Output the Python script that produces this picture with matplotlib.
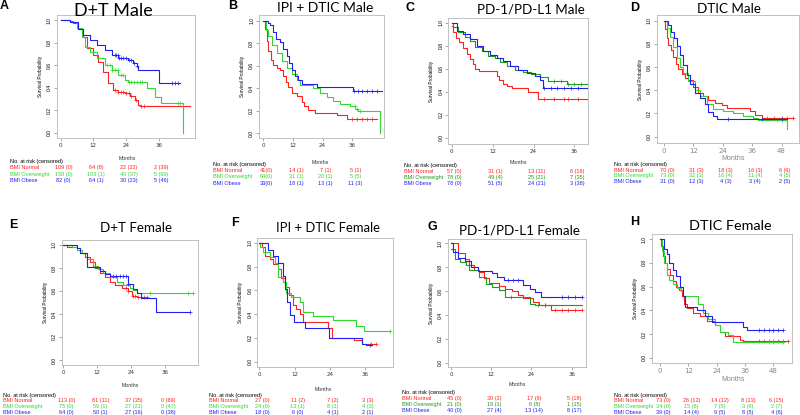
import numpy as np
import matplotlib
matplotlib.use("Agg")
import matplotlib.pyplot as plt

W, H = 800, 415
RED = "#ff2020"
GREEN = "#30d830"
DKGREEN = "#1e9a1e"
BLUE = "#2020f0"

# --- curves: (month, survival) step points, last point = end of follow-up ---
A_NORMAL = [(0, 1.0), (3.4, 0.99), (4.6, 0.97), (6.5, 0.92), (8.3, 0.85), (9.5, 0.75), (12, 0.69),
            (13.8, 0.63), (15.7, 0.54), (17.5, 0.44), (19.3, 0.38), (21, 0.36), (23.6, 0.35),
            (25.5, 0.33), (27.3, 0.29), (28.5, 0.25), (29.2, 0.24), (47.5, 0.24)]
A_OVER = [(0, 1.0), (3.5, 0.98), (5.9, 0.93), (7.7, 0.85), (8.9, 0.76), (10.8, 0.72), (13.2, 0.66),
          (16.3, 0.60), (18.7, 0.56), (21.2, 0.51), (23.6, 0.47), (24.8, 0.45), (31.6, 0.40),
          (34.7, 0.32), (36.7, 0.26), (45.1, 0.0)]
A_OBESE = [(0, 1.0), (3.5, 0.98), (6.5, 0.92), (8.3, 0.87), (10.8, 0.82), (13.2, 0.78), (16.3, 0.73),
           (18.7, 0.69), (21.2, 0.66), (24.8, 0.645), (26.7, 0.62), (27.9, 0.59), (28.5, 0.555),
           (36.1, 0.44), (43.9, 0.44)]
A_CENS = ([20, 21, 22, 23, 24, 25, 26, 27.6, 29.6, 30.5],
          [17, 18, 19, 20, 21, 22, 23, 25, 26, 27, 28, 29, 30, 43, 44],
          [20, 20.5, 21, 21.5, 22, 23, 24, 25, 26, 27, 28, 41, 42, 43])

B_NORMAL = [(0, 1.0), (0.7, 0.93), (1.3, 0.82), (2.0, 0.73), (3.0, 0.65), (4.0, 0.61), (5.4, 0.58),
            (6.7, 0.56), (8.1, 0.51), (9.2, 0.46), (10.1, 0.41), (11.5, 0.36), (13.5, 0.33),
            (15.5, 0.28), (16.5, 0.24), (18.2, 0.21), (20.9, 0.18), (29.7, 0.16), (33.7, 0.13),
            (45.9, 0.13)]
B_OVER = [(0, 1.0), (1.1, 0.92), (2.0, 0.86), (3.4, 0.78), (5.4, 0.71), (7.4, 0.64), (9.4, 0.58),
          (11.5, 0.53), (13.5, 0.47), (14.8, 0.43), (20.2, 0.40), (22.9, 0.36), (25.6, 0.32),
          (28.3, 0.29), (31.0, 0.26), (35.1, 0.24), (37.1, 0.22), (38.5, 0.20), (47.2, 0.0)]
B_OBESE = [(0, 1.0), (2.0, 0.98), (2.7, 0.96), (4.0, 0.90), (5.1, 0.84), (6.7, 0.81), (8.1, 0.75),
           (9.4, 0.69), (10.5, 0.62), (11.5, 0.56), (12.8, 0.51), (14.2, 0.47), (15.5, 0.44),
           (21.6, 0.41), (36.4, 0.38), (47.9, 0.38)]
B_CENS = ([36, 38, 40, 42, 44], [37, 38, 39], [36.8, 38.5, 40, 42, 44, 46])

C_NORMAL = [(0, 0.97), (0.5, 0.92), (1.3, 0.87), (2.2, 0.83), (3.4, 0.78), (4.4, 0.73), (5.4, 0.68),
            (6.1, 0.64), (6.8, 0.60), (8.1, 0.58), (13.2, 0.54), (14.0, 0.50), (15.1, 0.47),
            (16.1, 0.45), (17.6, 0.43), (22.5, 0.40), (25.4, 0.34), (40, 0.34)]
C_OVER = [(0, 1.0), (0.5, 0.96), (1.9, 0.92), (3.9, 0.88), (5.4, 0.84), (6.8, 0.79), (8.8, 0.75),
          (10.7, 0.71), (12.7, 0.69), (14.2, 0.66), (16.1, 0.62), (18.6, 0.59), (21.0, 0.57),
          (23.4, 0.55), (25.9, 0.53), (28.3, 0.49), (33.7, 0.47), (40, 0.47)]
C_OBESE = [(0, 1.0), (1.5, 0.93), (3.4, 0.90), (5.4, 0.86), (7.3, 0.80), (9.3, 0.75), (11.2, 0.72),
           (13.2, 0.69), (15.1, 0.67), (17.1, 0.62), (19.5, 0.59), (22.0, 0.56), (24.4, 0.54),
           (25.9, 0.50), (26.9, 0.43), (40, 0.43)]
C_CENS = ([27, 30, 33, 34, 37], [30, 32, 34, 36, 38], [27, 29, 31, 33, 35, 37])

D_NORMAL = [(0, 1.0), (0.4, 0.93), (1.1, 0.85), (1.8, 0.79), (2.7, 0.75), (3.8, 0.69), (4.9, 0.63),
            (5.9, 0.58), (7.2, 0.54), (8.6, 0.51), (9.9, 0.49), (12.0, 0.43), (14.0, 0.38),
            (16.0, 0.35), (18.1, 0.32), (20.8, 0.29), (23.5, 0.27), (25.6, 0.25), (35.1, 0.22),
            (37.1, 0.19), (39.9, 0.16), (52.8, 0.16)]
D_OVER = [(0, 1.0), (1.1, 0.94), (2.4, 0.86), (3.8, 0.77), (5.2, 0.68), (6.5, 0.60), (7.9, 0.55),
          (9.9, 0.48), (12.7, 0.40), (14.7, 0.35), (17.4, 0.28), (20.1, 0.24), (24.2, 0.22),
          (28.3, 0.20), (32.4, 0.18), (36.5, 0.16), (38.5, 0.14), (50.1, 0.07), (50.3, 0.07)]
D_OBESE = [(0, 1.0), (1.8, 0.96), (2.9, 0.90), (4.1, 0.85), (5.2, 0.78), (6.5, 0.70), (7.9, 0.62),
           (9.3, 0.53), (10.6, 0.45), (12.7, 0.38), (14.7, 0.33), (16.7, 0.28), (18.1, 0.21),
           (20.1, 0.18), (21.5, 0.15), (50.1, 0.15)]
D_CENS = ([42, 45, 48, 50, 52.8], [46, 48], [26, 40, 48])

E_NORMAL = [(0, 1.0), (1.2, 0.98), (4.7, 0.96), (5.9, 0.93), (7.6, 0.90), (9.4, 0.85), (11.2, 0.80),
            (12.9, 0.76), (14.7, 0.72), (16.5, 0.68), (18.2, 0.65), (20.6, 0.63), (22.9, 0.60),
            (24.1, 0.56), (25.9, 0.55), (29.4, 0.55)]
E_OVER = [(0, 1.0), (3.0, 0.98), (4.7, 0.96), (6.5, 0.93), (8.2, 0.88), (10.6, 0.82), (12.4, 0.79),
          (14.1, 0.76), (16.5, 0.72), (18.8, 0.68), (21.2, 0.65), (23.5, 0.63), (24.7, 0.61),
          (25.9, 0.585), (45.9, 0.585)]
E_OBESE = [(0, 1.0), (4.7, 0.97), (5.9, 0.93), (8.5, 0.81), (12.9, 0.77), (14.7, 0.745),
           (16.5, 0.73), (22.9, 0.66), (24.7, 0.62), (25.9, 0.58), (27.6, 0.54), (32.9, 0.42),
           (44.7, 0.42)]
E_CENS = ([22, 23, 24.5, 25.5, 26.5, 27.5, 28.5, 29.4], [30.5, 44, 45.9],
          [17.5, 18.5, 20, 21, 22, 23, 44.7])

F_NORMAL = [(0, 1.0), (0.8, 0.96), (1.9, 0.89), (3.6, 0.86), (4.7, 0.82), (6.4, 0.78), (7.5, 0.70),
            (8.7, 0.63), (10.1, 0.56), (11.5, 0.48), (12.6, 0.44), (13.7, 0.40), (14.8, 0.33),
            (23.3, 0.28), (24.7, 0.20), (32.2, 0.18), (35.1, 0.15), (39.6, 0.15)]
F_OVER = [(0, 1.0), (0.3, 0.96), (1.4, 0.92), (3.6, 0.88), (5.3, 0.83), (6.4, 0.71), (8.1, 0.67),
          (9.2, 0.58), (10.9, 0.54), (13.7, 0.50), (14.8, 0.42), (18.2, 0.38), (24.9, 0.35),
          (32.8, 0.30), (35.6, 0.26), (44.6, 0.26)]
F_OBESE = [(0, 1.0), (3.0, 0.94), (4.7, 0.89), (6.4, 0.83), (7.9, 0.72), (8.7, 0.61), (9.4, 0.50),
           (10.3, 0.39), (11.7, 0.33), (15.4, 0.28), (23.8, 0.20), (35.1, 0.15), (36.2, 0.14),
           (38.4, 0.14)]
F_CENS = ([38, 39.6], [44.6], [37.5])

G_NORMAL = [(0, 1.0), (2.1, 0.92), (4.1, 0.87), (5.5, 0.82), (7.0, 0.78), (8.4, 0.76), (9.9, 0.71),
            (11.4, 0.67), (14.3, 0.64), (16.2, 0.62), (18.2, 0.60), (20.1, 0.57), (21.6, 0.54),
            (24.5, 0.51), (26.4, 0.48), (29.8, 0.44), (39, 0.44)]
G_OVER = [(0, 0.95), (1.2, 0.87), (2.6, 0.84), (4.6, 0.82), (5.5, 0.78), (8.4, 0.72), (10.4, 0.66),
          (12.3, 0.63), (14.3, 0.61), (16.2, 0.55), (23.5, 0.49), (25.0, 0.48), (39, 0.48)]
G_OBESE = [(0, 1.0), (0.7, 0.93), (2.1, 0.88), (4.1, 0.85), (6.0, 0.80), (8.0, 0.77), (12.3, 0.75),
           (13.8, 0.72), (15.7, 0.69), (21.6, 0.65), (23.5, 0.62), (25.0, 0.59), (26.9, 0.55),
           (39, 0.55)]
G_CENS = ([28, 31, 33, 35, 37, 39], [18, 26, 28], [17, 18.5, 20, 33, 35, 37, 39])

H_NORMAL = [(0, 1.0), (0.3, 0.94), (1.1, 0.86), (2.1, 0.80), (3.1, 0.75), (4.2, 0.70), (5.4, 0.65),
            (6.8, 0.60), (8.2, 0.57), (9.2, 0.52), (10.2, 0.45), (11.6, 0.42), (14.1, 0.38),
            (16.9, 0.35), (19.8, 0.31), (23.3, 0.28), (25.4, 0.22), (27.5, 0.18), (33.9, 0.15),
            (35.3, 0.14), (54.4, 0.14)]
H_OVER = [(0, 1.0), (0.7, 0.90), (1.7, 0.80), (2.8, 0.70), (4.0, 0.66), (5.6, 0.62), (7.3, 0.59),
          (8.8, 0.56), (9.9, 0.52), (16.2, 0.45), (18.4, 0.38), (20.5, 0.33), (23.3, 0.28),
          (25.4, 0.22), (29.0, 0.19), (31.1, 0.13), (52.7, 0.13)]
H_OBESE = [(0, 1.0), (1.7, 0.92), (2.8, 0.88), (4.0, 0.80), (5.4, 0.74), (6.8, 0.69), (8.5, 0.60),
           (9.6, 0.52), (10.6, 0.43), (15.5, 0.40), (19.1, 0.35), (21.9, 0.30), (35.3, 0.26),
           (36.7, 0.23), (52.3, 0.23)]
H_CENS = ([42, 44, 46, 48, 50, 52, 54.4], [46, 48, 52], [42, 44, 46, 48, 50, 52])

# --- numbers at risk (censored) ---
A_RISK = (["109 (0)", "64 (8)", "22 (22)", "2 (39)"],
          ["158 (0)", "103 (1)", "40 (37)", "5 (69)"],
          ["82 (0)", "64 (1)", "30 (23)", "5 (46)"])
B_RISK = (["41(0)", "14 (1)", "7 (1)", "5 (1)"],
          ["64(0)", "31 (1)", "20 (1)", "5 (5)"],
          ["33(0)", "18 (1)", "13 (1)", "11 (3)"])
C_RISK = (["57 (0)", "31 (1)", "13 (11)", "6 (16)"],
          ["78 (0)", "49 (4)", "25 (21)", "7 (35)"],
          ["78 (0)", "51 (5)", "24 (21)", "3 (38)"])
D_RISK = (["70 (0)", "31 (3)", "18 (3)", "16 (3)", "6 (6)"],
          ["73 (0)", "32 (3)", "16 (4)", "11 (4)", "4 (5)"],
          ["31 (0)", "12 (3)", "4 (3)", "3 (4)", "2 (5)"])
E_RISK = (["113 (0)", "81 (11)", "37 (35)", "0 (69)"],
          ["75 (0)", "59 (1)", "27 (21)", "0 (47)"],
          ["64 (0)", "50 (1)", "27 (16)", "0 (38)"])
F_RISK = (["27 (0)", "11 (2)", "7 (2)", "3 (3)"],
          ["24 (0)", "13 (1)", "8 (1)", "4 (3)"],
          ["18 (0)", "6 (0)", "4 (1)", "2 (1)"])
G_RISK = (["45 (0)", "30 (2)", "17 (9)", "5 (18)"],
          ["21 (0)", "19 (1)", "6 (8)", "1 (15)"],
          ["40 (0)", "27 (4)", "13 (14)", "8 (17)"])
H_RISK = (["73 (0)", "26 (12)", "14 (12)", "8 (13)", "6 (15)"],
          ["34 (0)", "15 (6)", "7 (5)", "3 (6)", "2 (7)"],
          ["39 (0)", "14 (4)", "9 (5)", "8 (5)", "4 (6)"])

GROUPS = ["BMI Normal", "BMI Overweight", "BMI Obese"]
TITLES = ["D+T Male", "IPI + DTIC Male", "PD-1/PD-L1 Male", "DTIC Male",
          "D+T Female", "IPI + DTIC Female", "PD-1/PD-L1 Female", "DTIC Female"]
LETTERS = ["A", "B", "C", "D", "E", "F", "G", "H"]
TICKS4 = [0, 12, 24, 36]
TICKS5 = [0, 12, 24, 36, 48]

# layout in pixels: box (l, t, r, b), pixel of month 0, px per month, pixel of 1.0 and 0.0
panels = [
    dict(curves=(A_NORMAL, A_OVER, A_OBESE), cens=A_CENS, risk=A_RISK, ticks=TICKS4, green=GREEN,
         box=(56.7, 15, 195, 138), x0=60.7, ppm=2.72, y1=20, y0=132.7, tsize=13,
         title=(113, 11), letter=(4, 6), months=(127, 158.5), tab=(10, 161.5, 6.3), grey=False),
    dict(curves=(B_NORMAL, B_OVER, B_OBESE), cens=B_CENS, risk=B_RISK, ticks=TICKS4, green=GREEN,
         box=(259, 15, 384.3, 138), x0=263.3, ppm=2.47, y1=20.7, y0=133.3, tsize=10,
         title=(325, 7.5), letter=(233, 6), months=(320, 162), tab=(213, 164.3, 6.3), grey=False),
    dict(curves=(C_NORMAL, C_OVER, C_OBESE), cens=C_CENS, risk=C_RISK, ticks=TICKS4, green=DKGREEN,
         box=(448.3, 18.3, 587.7, 144), x0=451.7, ppm=3.41, y1=22.7, y0=137.7, tsize=9.6,
         title=(531, 10), letter=(410, 8), months=(518, 162.3), tab=(404, 165, 6.2), grey=False),
    dict(curves=(D_NORMAL, D_OVER, D_OBESE), cens=D_CENS, risk=D_RISK, ticks=TICKS5, green=GREEN,
         box=(656.7, 15, 799, 143.3), x0=664, ppm=2.45, y1=20.7, y0=136.7, tsize=9.6,
         title=(729, 9.3), letter=(635, 8), months=(733, 158.3), tab=(614, 164.3, 5.8), grey=True),
    dict(curves=(E_NORMAL, E_OVER, E_OBESE), cens=E_CENS, risk=E_RISK, ticks=TICKS4, green=GREEN,
         box=(61.7, 240, 197.7, 365), x0=63.3, ppm=2.83, y1=245, y0=360, tsize=9.6,
         title=(136, 228.3), letter=(13, 225), months=(130, 385), tab=(3, 395, 5.7), grey=False),
    dict(curves=(F_NORMAL, F_OVER, F_OBESE), cens=F_CENS, risk=F_RISK, ticks=TICKS4, green=GREEN,
         box=(257.3, 238.3, 393, 366.7), x0=259.3, ppm=2.94, y1=242.7, y0=361.7, tsize=9.4,
         title=(328, 228.3), letter=(235, 223), months=(323, 389), tab=(209, 395, 5.7), grey=False),
    dict(curves=(G_NORMAL, G_OVER, G_OBESE), cens=G_CENS, risk=G_RISK, ticks=TICKS4, green=DKGREEN,
         box=(447.7, 239.3, 585.7, 367.3), x0=451, ppm=3.35, y1=243.3, y0=362.7, tsize=9.6,
         title=(519, 230), letter=(432, 227), months=(517, 384), tab=(402, 392.7, 5.8), grey=False),
    dict(curves=(H_NORMAL, H_OVER, H_OBESE), cens=H_CENS, risk=H_RISK, ticks=TICKS5, green=GREEN,
         box=(651.7, 234, 791.7, 363.3), x0=660, ppm=2.36, y1=239.3, y0=357.7, tsize=10.4,
         title=(730, 226), letter=(635, 222), months=(733, 379.3), tab=(614, 395, 5.7), grey=True),
]

fig = plt.figure(figsize=(8, 4.15), dpi=100)
FONT = ["Liberation Sans", "DejaVu Sans"]
TAB_FS = 4.0


def surv_at(pts, t):
    ts = np.array([p[0] for p in pts])
    ss = np.array([p[1] for p in pts])
    i = np.searchsorted(ts, t, side="right") - 1
    return ss[max(i, 0)]


for k, p in enumerate(panels):
    l, t, r, b = p["box"]
    ax = fig.add_axes([l / W, 1 - b / H, (r - l) / W, (b - t) / H])
    unit = p["y0"] - p["y1"]
    ax.set_xlim((l - p["x0"]) / p["ppm"], (r - p["x0"]) / p["ppm"])
    ax.set_ylim((p["y0"] - b) / unit, (p["y0"] - t) / unit)
    colors = [RED, p["green"], BLUE]
    for pts, cens, col in zip(p["curves"], p["cens"], colors):
        ts = [q[0] for q in pts]
        ss = [q[1] for q in pts]
        ax.step(ts, ss, where="post", color=col, lw=0.8)
        ax.plot(cens, [surv_at(pts, c) for c in cens], ls="none", marker="+",
                ms=3, mew=0.5, color=col)
    for sp in ax.spines.values():
        sp.set_color("#b8b8b8")
        sp.set_linewidth(0.6)
    tick_col = "#888888" if p["grey"] else "#333333"
    ax.set_xticks(p["ticks"])
    ax.set_yticks([0, 0.2, 0.4, 0.6, 0.8, 1.0])
    ax.set_yticklabels(["0.0", "0.2", "0.4", "0.6", "0.8", "1.0"], rotation=90, va="center",
                       family=FONT)
    ax.tick_params(axis="y", labelsize=3.6, length=2, width=0.5, pad=1.5, color="#888888")
    ax.tick_params(axis="x", labelsize=5 if p["grey"] else 4, length=2, width=0.5, pad=1.5,
                   color="#888888", labelcolor=tick_col)
    ax.set_ylabel("Survival Probability", fontsize=3.4, labelpad=3, family=FONT)

    fig.text(p["title"][0] / W, 1 - p["title"][1] / H, TITLES[k], fontsize=p["tsize"],
             family=["Lato", "DejaVu Sans"], ha="center", va="center")
    fig.text(p["letter"][0] / W, 1 - p["letter"][1] / H, LETTERS[k], fontsize=9,
             fontweight="bold", family=FONT, ha="center", va="center")
    fig.text(p["months"][0] / W, 1 - p["months"][1] / H, "Months",
             fontsize=5 if p["grey"] else 3.8, color=tick_col, family=FONT,
             ha="center", va="center")

    tx, ty, dy = p["tab"]
    fig.text(tx / W, 1 - ty / H, "No. at risk (censored)", fontsize=TAB_FS, family=FONT,
             ha="left", va="center")
    for g, (name, row, col) in enumerate(zip(GROUPS, p["risk"], colors)):
        yy = 1 - (ty + dy * (g + 1)) / H
        fig.text(tx / W, yy, name, fontsize=TAB_FS, color=col, family=FONT,
                 ha="left", va="center")
        for m, val in zip(p["ticks"], row):
            xx = p["x0"] + m * p["ppm"] + 3
            fig.text(xx / W, yy, val, fontsize=TAB_FS, color=col, family=FONT,
                     ha="center", va="center")

fig.savefig("out.png", dpi=100)
